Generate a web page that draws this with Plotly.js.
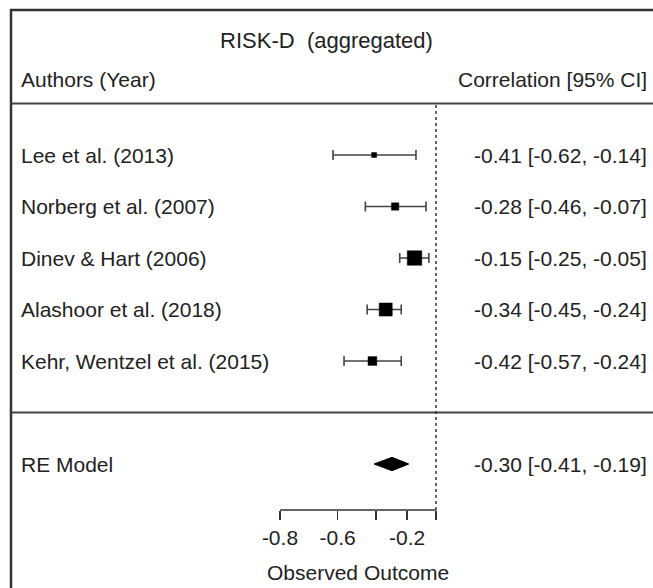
<!DOCTYPE html>
<html>
<head>
<meta charset="utf-8">
<script src="https://cdn.plot.ly/plotly-3.0.1.min.js"></script>
<style>html,body{margin:0;padding:0;background:#fff;}#chart{width:653px;height:588px;}</style>
</head>
<body>
<div id="chart"></div>
<script>
// ---- data ----
const studies = ["Lee et al. (2013)", "Norberg et al. (2007)", "Dinev & Hart (2006)", "Alashoor et al. (2018)", "Kehr, Wentzel et al. (2015)"];
const estimate = [-0.41, -0.28, -0.15, -0.34, -0.42];
const lowerCI = [-0.62, -0.46, -0.25, -0.45, -0.57];
const upperCI = [-0.14, -0.07, -0.05, -0.24, -0.24];
const weights = [10, 15, 30, 27, 18];
const modelLabel = "RE Model";
const modelEstimate = -0.30;
const modelLower = -0.41;
const modelUpper = -0.19;
const tickValues = [-0.8, -0.6, -0.4, -0.2, 0];
const tickLabels = ["-0.8", "-0.6", "", "-0.2", ""];
const titleText = "RISK-D\u00a0 (aggregated)";
const headerLeft = "Authors (Year)";
const headerRight = "Correlation [95% CI]";
const xTitle = "Observed Outcome";

// ---- layout constants ----
const W = 653, H = 588;
const FONT = "Arial, 'Liberation Sans', sans-serif";
const FS = 21;
const TXT = "#222";
const LINE = "#333";
const z = v => Math.atanh(v);            // Fisher z axis scale
const xRange = [-3.070, 1.528];
const yRange = [-1.893, 8.01];
const k = studies.length;
const rows = studies.map((s, i) => k - i);
const fmt = v => v.toFixed(2);
const wMin = Math.min(...weights), wMax = Math.max(...weights);
const sizes = weights.map(w => 5 + (w - wMin) / (wMax - wMin) * 9.5);

const traces = [
  // confidence intervals
  {
    type: "scatter", mode: "markers",
    x: estimate.map(z), y: rows,
    marker: {symbol: "square", color: "rgba(0,0,0,0)", size: 1},
    error_x: {
      type: "data", symmetric: false,
      array: upperCI.map((u, i) => z(u) - z(estimate[i])),
      arrayminus: lowerCI.map((l, i) => z(estimate[i]) - z(l)),
      color: "#444", thickness: 1.6, width: 5
    },
    hoverinfo: "skip", showlegend: false
  },
  // point estimates, sized by weight
  {
    type: "scatter", mode: "markers",
    x: estimate.map(z), y: rows,
    marker: {symbol: "square", color: "#000", opacity: 1, size: sizes, line: {color: "#000", width: 0.5}},
    hoverinfo: "skip", showlegend: false
  },
  // summary diamond
  {
    type: "scatter", mode: "lines",
    x: [z(modelLower), z(modelEstimate), z(modelUpper), z(modelEstimate), z(modelLower)],
    y: [-1, -1 + 0.13, -1, -1 - 0.13, -1],
    fill: "toself", fillcolor: "#000", line: {color: "#000", width: 1},
    hoverinfo: "skip", showlegend: false
  }
];

const annotations = [];
const addText = (text, x, xref, y, anchor, size) => annotations.push({
  text, x, xref, y, yref: "y", xanchor: anchor, yanchor: "middle", showarrow: false,
  font: {family: FONT, size: size || FS, color: TXT}
});
addText(headerLeft, 19 / W, "paper", 6.46, "left");
addText(headerRight, 649 / W, "paper", 6.46, "right");
studies.forEach((s, i) => {
  addText(s, 19 / W, "paper", rows[i], "left");
  addText(fmt(estimate[i]) + " [" + fmt(lowerCI[i]) + ", " + fmt(upperCI[i]) + "]", 649 / W, "paper", rows[i], "right");
});
addText(modelLabel, 19 / W, "paper", -1, "left");
addText(fmt(modelEstimate) + " [" + fmt(modelLower) + ", " + fmt(modelUpper) + "]", 649 / W, "paper", -1, "right");
// x-axis label, centred under the axis segment
annotations.push({
  text: xTitle, x: (z(tickValues[0]) + z(tickValues[tickValues.length - 1])) / 2, xref: "x",
  y: -(572 - 510) / 510, yref: "paper", xanchor: "center", yanchor: "middle", showarrow: false,
  font: {family: FONT, size: FS, color: TXT}
});

const shapes = [
  // outer box (cropped on the right and bottom)
  {type: "rect", xref: "paper", yref: "paper", x0: 11 / W, x1: 1.05, y0: -0.4, y1: 1 - 10 / 510,
   line: {color: LINE, width: 2.5}, fillcolor: "rgba(0,0,0,0)"},
  // header separator and fit separator
  {type: "line", xref: "paper", yref: "y", x0: 11 / W, x1: 1.05, y0: k + 1, y1: k + 1, line: {color: "#444", width: 2}},
  {type: "line", xref: "paper", yref: "y", x0: 11 / W, x1: 1.05, y0: 0, y1: 0, line: {color: "#444", width: 2}},
  // reference line
  {type: "line", xref: "x", yref: "y", x0: 0, x1: 0, y0: yRange[0], y1: k + 1, line: {color: LINE, width: 1.5, dash: "dot"}},
  // axis line
  {type: "line", xref: "x", yref: "paper", x0: z(tickValues[0]), x1: z(tickValues[tickValues.length - 1]), y0: 0, y1: 0,
   line: {color: LINE, width: 1.5}}
];

const layout = {
  width: W, height: H,
  margin: {l: 0, r: 0, t: 0, b: 78, pad: 0},
  paper_bgcolor: "#fff", plot_bgcolor: "#fff",
  showlegend: false,
  title: {text: titleText, x: 0.5, xanchor: "center", y: 1 - 40 / H, yanchor: "middle", yref: "container",
          font: {family: FONT, size: 22, color: TXT}},
  xaxis: {
    range: xRange, fixedrange: true, showgrid: false, zeroline: false, showline: false,
    ticks: "outside", ticklen: 9, tickwidth: 1.5, tickcolor: LINE,
    tickmode: "array", tickvals: tickValues.map(z), ticktext: tickLabels,
    tickfont: {family: FONT, size: FS, color: TXT}
  },
  yaxis: {range: yRange, visible: false, fixedrange: true, showgrid: false, zeroline: false},
  annotations, shapes
};

Plotly.newPlot("chart", traces, layout, {staticPlot: true, displayModeBar: false});
</script>
</body>
</html>
